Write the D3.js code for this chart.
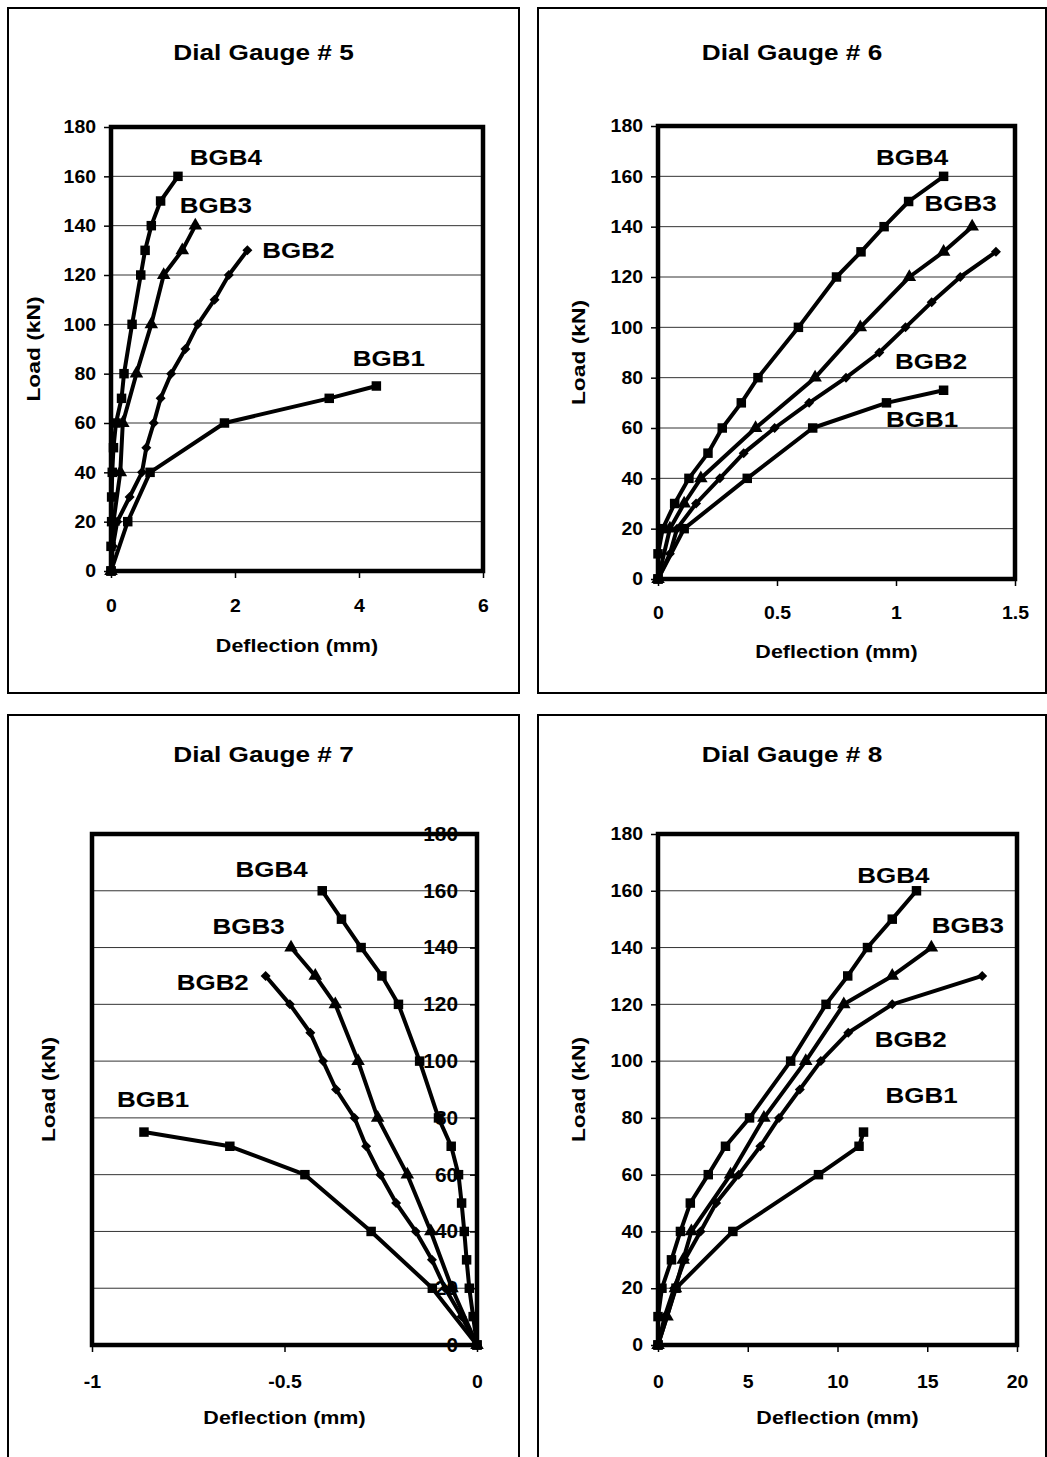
<!DOCTYPE html>
<html>
<head>
<meta charset="utf-8">
<script src="https://cdn.jsdelivr.net/npm/d3@7"></script>
<style>
  body { margin:0; background:#fff; }
  text { font-family: "Liberation Sans", Arial, sans-serif; font-weight:bold; fill:#000; }
</style>
</head>
<body>
<svg id="chart" width="1047" height="1457"></svg>
<script>
// series names and tick labels
const seriesNames = ["BGB1","BGB2","BGB3","BGB4"];
const loadTicks = [0,20,40,60,80,100,120,140,160,180];

// [deflection (mm), load (kN)]
const g5_BGB1 = [[0,0],[0.27,20],[0.63,40],[1.83,60],[3.52,70],[4.28,75]];
const g5_BGB2 = [[0,0],[0.03,10],[0.1,20],[0.3,30],[0.5,40],[0.57,50],[0.69,60],[0.8,70],[0.97,80],[1.2,90],[1.4,100],[1.67,110],[1.9,120],[2.2,130]];
const g5_BGB3 = [[0,0],[0.04,20],[0.15,40],[0.19,60],[0.41,80],[0.65,100],[0.85,120],[1.15,130],[1.36,140]];
const g5_BGB4 = [[0,0],[0,10],[0.01,20],[0.01,30],[0.02,40],[0.04,50],[0.08,60],[0.17,70],[0.21,80],[0.34,100],[0.48,120],[0.55,130],[0.65,140],[0.8,150],[1.08,160]];

const g6_BGB1 = [[0,0],[0.11,20],[0.375,40],[0.65,60],[0.96,70],[1.2,75]];
const g6_BGB2 = [[0,0],[0.05,10],[0.08,20],[0.16,30],[0.26,40],[0.36,50],[0.49,60],[0.635,70],[0.79,80],[0.93,90],[1.04,100],[1.15,110],[1.27,120],[1.42,130]];
const g6_BGB3 = [[0,0],[0.05,20],[0.11,30],[0.18,40],[0.41,60],[0.66,80],[0.85,100],[1.056,120],[1.2,130],[1.32,140]];
const g6_BGB4 = [[0,0],[0,10],[0.02,20],[0.07,30],[0.13,40],[0.21,50],[0.27,60],[0.35,70],[0.42,80],[0.59,100],[0.75,120],[0.853,130],[0.95,140],[1.053,150],[1.2,160]];

const g7_BGB1 = [[0,0],[-0.116,20],[-0.275,40],[-0.447,60],[-0.642,70],[-0.865,75]];
const g7_BGB2 = [[0,0],[-0.04,10],[-0.083,20],[-0.117,30],[-0.159,40],[-0.21,50],[-0.251,60],[-0.288,70],[-0.318,80],[-0.366,90],[-0.4,100],[-0.433,110],[-0.486,120],[-0.549,130]];
const g7_BGB3 = [[0,0],[-0.065,20],[-0.12,40],[-0.181,60],[-0.258,80],[-0.309,100],[-0.368,120],[-0.42,130],[-0.483,140]];
const g7_BGB4 = [[0,0],[-0.01,10],[-0.02,20],[-0.027,30],[-0.033,40],[-0.04,50],[-0.048,60],[-0.067,70],[-0.1,80],[-0.149,100],[-0.204,120],[-0.247,130],[-0.301,140],[-0.352,150],[-0.402,160]];

const g8_BGB1 = [[0,0],[1.0,20],[4.17,40],[8.94,60],[11.2,70],[11.45,75]];
const g8_BGB2 = [[0,0],[0.37,10],[0.9,20],[1.49,30],[2.37,40],[3.24,50],[4.5,60],[5.7,70],[6.74,80],[7.9,90],[9.07,100],[10.6,110],[13.05,120],[18.06,130]];
const g8_BGB3 = [[0,0],[0.5,10],[0.97,20],[1.4,30],[1.86,40],[4.04,60],[5.9,80],[8.23,100],[10.35,120],[13.05,130],[15.23,140]];
const g8_BGB4 = [[0,0],[0,10],[0.22,20],[0.75,30],[1.25,40],[1.8,50],[2.8,60],[3.76,70],[5.1,80],[7.39,100],[9.36,120],[10.57,130],[11.67,140],[13.05,150],[14.4,160]];

// layout of the four panels (pixels) and axis setup
const panels = [
  {title:"Dial Gauge # 5", box:[8,8,519,693], plot:{l:111,t:127,r:483,b:571}, xDomain:[0,6], xTicks:[0,2,4,6],
   data:[g5_BGB1,g5_BGB2,g5_BGB3,g5_BGB4], yAxisRight:false, titleY:52, xLabY:606, xTitleY:645, loadX:33,
   labels:[[3.9,83],[2.44,127],[1.11,145],[1.27,164.6]]},
  {title:"Dial Gauge # 6", box:[538,8,1046,693], plot:{l:658,t:126,r:1015,b:579}, xDomain:[0,1.5], xTicks:[0,0.5,1,1.5],
   data:[g6_BGB1,g6_BGB2,g6_BGB3,g6_BGB4], yAxisRight:false, titleY:52, xLabY:613, xTitleY:651, loadX:578,
   labels:[[0.958,60.5],[0.996,83.6],[1.12,146.4],[0.916,164.7]]},
  {title:"Dial Gauge # 7", box:[8,715,519,1470], plot:{l:92,t:834,r:477,b:1345}, xDomain:[-1,0], xTicks:[-1,-0.5,0],
   data:[g7_BGB1,g7_BGB2,g7_BGB3,g7_BGB4], yAxisRight:true, titleY:754, xLabY:1382, xTitleY:1417, loadX:48,
   labels:[[-0.935,84],[-0.78,125.2],[-0.687,144.6],[-0.627,165]]},
  {title:"Dial Gauge # 8", box:[538,715,1046,1470], plot:{l:658,t:834,r:1017,b:1345}, xDomain:[0,20], xTicks:[0,5,10,15,20],
   data:[g8_BGB1,g8_BGB2,g8_BGB3,g8_BGB4], yAxisRight:false, titleY:754, xLabY:1382, xTitleY:1417, loadX:578,
   labels:[[12.68,85.4],[12.07,105.1],[15.25,145.3],[11.1,162.6]]}
];

const markerShape = ["square","diamond","triangle","square"];

const svg = d3.select("#chart");

// the source figure was stretched sideways, so widen glyphs a bit
function stretch(sel, k){
  sel.each(function(){
    const w = this.getComputedTextLength();
    this.setAttribute("textLength", w*k);
    this.setAttribute("lengthAdjust","spacingAndGlyphs");
  });
}

function marker(shape){
  if(shape=="square") return d3.symbol().type(d3.symbolSquare).size(90)();
  if(shape=="triangle") return d3.symbol().type(d3.symbolTriangle).size(80)();
  // diamond: square turned 45 degrees
  const r = 5;
  return "M0,"+(-r)+"L"+r+",0L0,"+r+"L"+(-r)+",0Z";
}

for (const p of panels){
  const g = svg.append("g");
  const [bx0,by0,bx1,by1] = p.box;
  g.append("rect").attr("x",bx0).attr("y",by0).attr("width",bx1-bx0).attr("height",by1-by0)
    .attr("fill","none").attr("stroke","#000").attr("stroke-width",2);

  const x = d3.scaleLinear().domain(p.xDomain).range([p.plot.l,p.plot.r]);
  const y = d3.scaleLinear().domain([0,180]).range([p.plot.b,p.plot.t]);
  const cx = (p.plot.l+p.plot.r)/2, cy=(p.plot.t+p.plot.b)/2;

  g.append("text").attr("x",(bx0+bx1)/2).attr("y",p.titleY).attr("text-anchor","middle")
    .attr("dominant-baseline","central").style("font-size","22px").text(p.title)
    .call(stretch,1.19);

  // gridlines
  g.append("g").selectAll("line").data(loadTicks.slice(1,-1)).enter().append("line")
    .attr("x1",p.plot.l).attr("x2",p.plot.r).attr("y1",d=>y(d)).attr("y2",d=>y(d))
    .attr("stroke","#333").attr("stroke-width",1);

  // y axis
  const axisX = p.yAxisRight ? p.plot.r : p.plot.l;
  const yAxis = d3.axisLeft(y).tickValues(loadTicks).tickSize(7).tickPadding(p.yAxisRight?12:8);
  const ya = g.append("g").attr("transform","translate("+axisX+",0)").call(yAxis);
  ya.select(".domain").remove();
  ya.selectAll("line").attr("stroke","#000").attr("stroke-width",1.5);
  ya.selectAll("text").style("font-size", p.yAxisRight?"20px":"18px").attr("fill","#000")
    .call(stretch, p.yAxisRight?1.04:1.08);

  // x axis (plain hyphen for negatives, as in the source)
  const xAxis = d3.axisBottom(x).tickValues(p.xTicks).tickSize(7).tickFormat(d=>String(d)).tickPadding(0);
  const xa = g.append("g").attr("transform","translate(0,"+p.plot.b+")").call(xAxis);
  xa.select(".domain").remove();
  xa.selectAll("line").attr("stroke","#000").attr("stroke-width",1.5);
  xa.selectAll("text").attr("y",p.xLabY-p.plot.b).attr("dy",null).attr("dominant-baseline","central")
    .style("font-size","18px").attr("fill","#000").call(stretch,1.08);

  // axis titles
  g.append("text").attr("x",cx).attr("y",p.xTitleY).attr("text-anchor","middle").attr("dominant-baseline","central")
    .style("font-size","19px").text("Deflection (mm)").call(stretch,1.13);
  g.append("text").attr("transform","translate("+p.loadX+","+cy+") rotate(-90)").attr("text-anchor","middle")
    .attr("dominant-baseline","central").style("font-size","19px").text("Load (kN)").call(stretch,1.2);

  // series
  const line = d3.line().x(d=>x(d[0])).y(d=>y(d[1]));
  p.data.forEach((s,i)=>{
    g.append("path").datum(s).attr("d",line).attr("fill","none").attr("stroke","#000")
      .attr("stroke-width",4).attr("stroke-linejoin","round");
    g.append("g").selectAll("path").data(s).enter().append("path")
      .attr("transform",d=>"translate("+x(d[0])+","+y(d[1])+")").attr("d",marker(markerShape[i])).attr("fill","#000");
  });

  // series labels
  p.labels.forEach((l,i)=>{
    g.append("text").attr("x",x(l[0])).attr("y",y(l[1])).style("font-size","22px").text(seriesNames[i])
      .call(stretch,1.18);
  });

  // plot border
  g.append("rect").attr("x",p.plot.l).attr("y",p.plot.t).attr("width",p.plot.r-p.plot.l).attr("height",p.plot.b-p.plot.t)
    .attr("fill","none").attr("stroke","#000").attr("stroke-width",4.5);
}
</script>
</body>
</html>
